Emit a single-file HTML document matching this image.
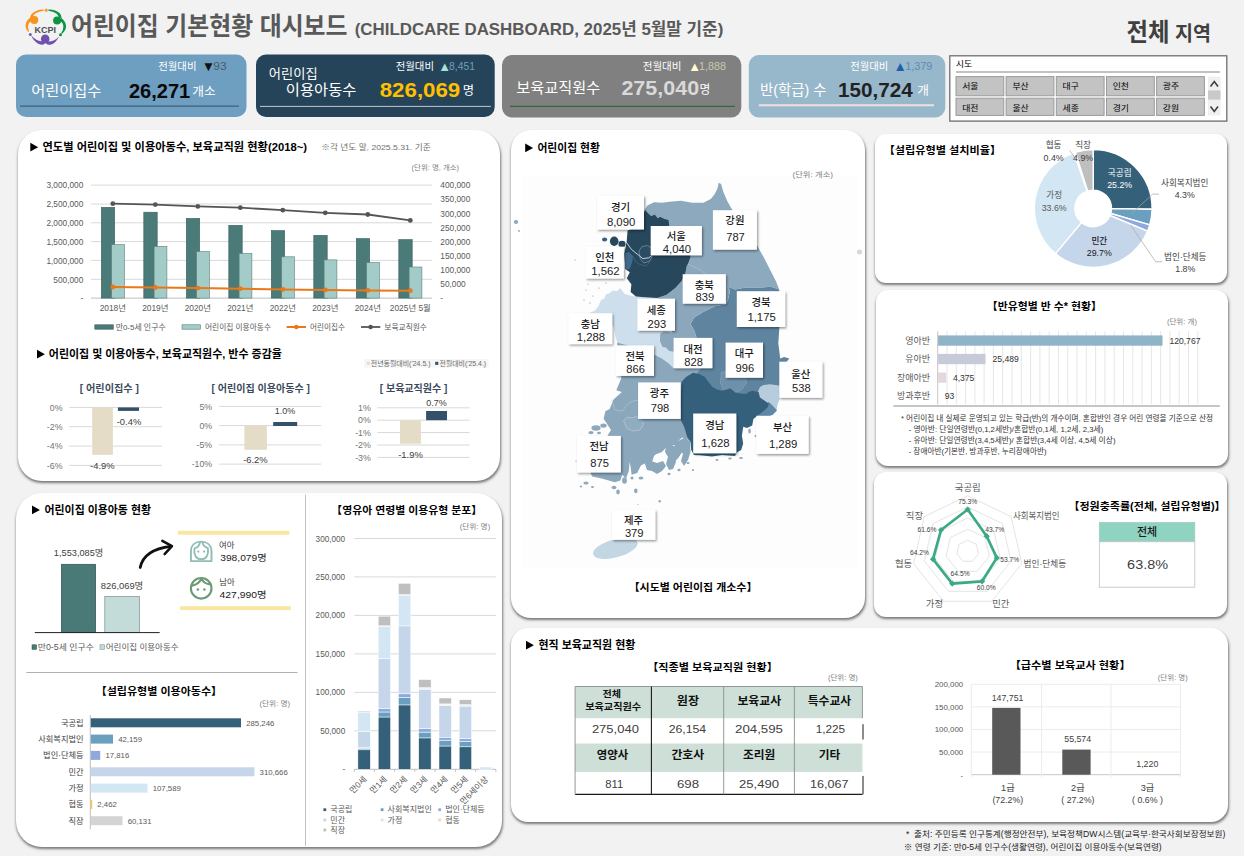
<!DOCTYPE html>
<html lang="ko"><head><meta charset="utf-8"><title>어린이집 기본현황 대시보드</title>
<style>
html,body{margin:0;padding:0;background:#f2f2f2}
body{width:1246px;height:856px;position:relative;overflow:hidden;font-family:"Liberation Sans","Noto Sans CJK KR",sans-serif}
.p{position:absolute;background:#fff;box-shadow:0.8px 2px 2.6px rgba(0,0,0,.5)}
svg{position:absolute;left:0;top:0}
svg text{font-family:"Liberation Sans","Noto Sans CJK KR",sans-serif;white-space:pre}
</style></head><body>
<div style="position:absolute;left:1243.6px;top:0;width:3px;height:856px;background:#fff"></div>
<div class="p" style="left:18.4px;top:130.2px;width:481.8px;height:351.2px;border-radius:24px"></div>
<div class="p" style="left:15.6px;top:492.8px;width:486.2px;height:354.6px;border-radius:26px"></div>
<div class="p" style="left:511.3px;top:130.3px;width:354px;height:487.4px;border-radius:20px"></div>
<div class="p" style="left:874.7px;top:133.7px;width:352.7px;height:149.6px;border-radius:11px"></div>
<div class="p" style="left:875.6px;top:290.2px;width:352.6px;height:175.4px;border-radius:12px"></div>
<div class="p" style="left:874.2px;top:472.0px;width:353.2px;height:144.5px;border-radius:12px"></div>
<div class="p" style="left:510.7px;top:628.0px;width:716.9px;height:194.0px;border-radius:17px"></div>
<svg width="1246" height="856" viewBox="0 0 1246 856">
<g id="header">
<g id="logo">
<path d="M43.6 9.5 Q36 9.3 31.4 14.2 Q29.8 16.2 30 18.6 L32.8 18 Q33 15.4 35.2 13.6 Q38.6 11 43.6 10.7 Z" fill="#f7941d"/>
<path d="M30.8 17.2 Q25.9 20.4 25.5 25.6 Q25.5 29.2 28.2 32 L29 31.4 Q27.7 28.6 28.1 25.6 Q28.7 22.2 32 20.4 Z" fill="#f7941d"/>
<circle cx="34.3" cy="20" r="4" fill="#f7941d"/><circle cx="46.2" cy="10.2" r="1.6" fill="#e8a33a"/>
<path d="M48.4 9.5 Q55.6 9.3 60 13.4 Q61.4 15.4 61.5 18 L58.9 17.6 Q58.3 15.2 56.4 13.6 Q53 11 48.4 10.7 Z" fill="#0a9444"/>
<path d="M60.8 17.6 Q65.7 21.4 66.1 26.3 Q66.1 30.2 61.9 34 L61.1 33.3 Q63.6 29.6 63.4 26 Q63 22.6 59.6 20.6 Z" fill="#0a9444"/>
<circle cx="57.1" cy="20.6" r="4" fill="#0a9444"/><circle cx="60.5" cy="34.7" r="1.5" fill="#0a9444"/>
<path d="M31.2 35.6 C33.5 41 38 44.6 42 44.8 C44 44.6 45 43.4 45.4 42.8 C46 43.5 47 44.6 49 44.8 C53 44.8 57 41.2 58.9 36.4 C55.5 40.6 50.5 42.4 45.4 41.2 C41 42.4 35.5 40.6 31.2 35.6Z" fill="#6f4fb0"/>
<circle cx="45.2" cy="38.9" r="4.3" fill="#6f4fb0"/><circle cx="30.3" cy="34.6" r="1.5" fill="#7a5cb5"/>
</g>
<text x="34.6" y="29.9" font-size="8.2" fill="#505050" font-weight="700" textLength="21.5" lengthAdjust="spacingAndGlyphs" dy="0.35em">KCPI</text>
<text x="71.0" y="26.3" font-size="25" fill="#595959" font-weight="700" textLength="276.5" lengthAdjust="spacingAndGlyphs" dy="0.35em">어린이집 기본현황 대시보드</text>
<text x="354.7" y="29.3" font-size="16.5" fill="#595959" font-weight="700" textLength="368.6" lengthAdjust="spacingAndGlyphs" dy="0.35em">(CHILDCARE DASHBOARD, 2025년 5월말 기준)</text>
<text x="1126.6" y="32.5" font-size="25" fill="#404040" font-weight="700" textLength="43.0" lengthAdjust="spacingAndGlyphs" dy="0.35em">전체</text>
<text x="1175.0" y="33.5" font-size="20" fill="#404040" font-weight="700" textLength="36.0" lengthAdjust="spacingAndGlyphs" dy="0.35em">지역</text>
<rect x="16" y="54.5" width="230.5" height="62.5" rx="10" ry="10" fill="#6f9fc0"/>
<rect x="256" y="54.5" width="238.7" height="62.5" rx="10" ry="10" fill="#264459"/>
<rect x="502" y="55" width="239.3" height="62.5" rx="10" ry="10" fill="#808080"/>
<rect x="748.8" y="55" width="196.5" height="62.5" rx="10" ry="10" fill="#97b7ca"/>
<text x="158.2" y="66.3" font-size="9.8" fill="#fff" textLength="38.3" lengthAdjust="spacingAndGlyphs" dy="0.35em">전월대비</text>
<text x="201.8" y="66.2" font-size="13.5" fill="#111" dy="0.35em">▼</text>
<text x="213.3" y="66.5" font-size="10.5" fill="#4a5a68" font-weight="300" textLength="13.3" lengthAdjust="spacingAndGlyphs" dy="0.35em">93</text>
<text x="31.3" y="90.6" font-size="15.3" fill="#fff" textLength="70.1" lengthAdjust="spacingAndGlyphs" dy="0.35em">어린이집수</text>
<text x="128.9" y="90.4" font-size="20.5" fill="#0a0a0a" font-weight="700" textLength="61.4" lengthAdjust="spacingAndGlyphs" dy="0.35em">26,271</text>
<text x="192.3" y="91.8" font-size="12.5" fill="#fff" textLength="23.5" lengthAdjust="spacingAndGlyphs" dy="0.35em">개소</text>
<line x1="20.0" y1="106.2" x2="239.0" y2="106.2" stroke="#41607a" stroke-width="1.2"/>
<text x="268.8" y="73.1" font-size="12.8" fill="#fff" textLength="48.8" lengthAdjust="spacingAndGlyphs" dy="0.35em">어린이집</text>
<text x="285.8" y="89.6" font-size="15.3" fill="#fff" textLength="70.6" lengthAdjust="spacingAndGlyphs" dy="0.35em">이용아동수</text>
<text x="395.7" y="66.3" font-size="9.8" fill="#fff" textLength="38.3" lengthAdjust="spacingAndGlyphs" dy="0.35em">전월대비</text>
<text x="438.2" y="66.4" font-size="13" fill="#a5e3e0" dy="0.35em">▲</text>
<text x="449.0" y="66.5" font-size="10.5" fill="#6f9fba" font-weight="300" textLength="25.9" lengthAdjust="spacingAndGlyphs" dy="0.35em">8,451</text>
<text x="379.7" y="89.4" font-size="21" fill="#ffc000" font-weight="700" textLength="80.6" lengthAdjust="spacingAndGlyphs" dy="0.35em">826,069</text>
<text x="462.8" y="90.8" font-size="12.5" fill="#fff" textLength="11.3" lengthAdjust="spacingAndGlyphs" dy="0.35em">명</text>
<line x1="260.0" y1="106.4" x2="490.9" y2="106.4" stroke="#c4c9cd" stroke-width="1"/>
<text x="642.7" y="66.3" font-size="9.8" fill="#fff" textLength="38.8" lengthAdjust="spacingAndGlyphs" dy="0.35em">전월대비</text>
<text x="688.2" y="66.4" font-size="13" fill="#ffffd0" dy="0.35em">▲</text>
<text x="699.0" y="66.5" font-size="10.5" fill="#c8c8ae" font-weight="300" textLength="26.9" lengthAdjust="spacingAndGlyphs" dy="0.35em">1,888</text>
<text x="516.3" y="88.1" font-size="15.3" fill="#fff" textLength="83.9" lengthAdjust="spacingAndGlyphs" dy="0.35em">보육교직원수</text>
<text x="621.4" y="87.9" font-size="21" fill="#d9d9d9" font-weight="700" textLength="77.7" lengthAdjust="spacingAndGlyphs" dy="0.35em">275,040</text>
<text x="699.5" y="89.3" font-size="12.5" fill="#fff" textLength="10.8" lengthAdjust="spacingAndGlyphs" dy="0.35em">명</text>
<line x1="510.0" y1="106.4" x2="734.9" y2="106.4" stroke="#2f6b3c" stroke-width="1.2"/>
<text x="850.2" y="66.3" font-size="9.8" fill="#fff" textLength="38.0" lengthAdjust="spacingAndGlyphs" dy="0.35em">전월대비</text>
<text x="893.6" y="66.4" font-size="13.5" fill="#1f5fa8" dy="0.35em">▲</text>
<text x="905.2" y="66.5" font-size="10.5" fill="#5d8cb8" font-weight="300" textLength="27.1" lengthAdjust="spacingAndGlyphs" dy="0.35em">1,379</text>
<text x="760.0" y="90.1" font-size="15.3" fill="#fff" textLength="66.4" lengthAdjust="spacingAndGlyphs" dy="0.35em">반(학급) 수</text>
<text x="838.1" y="89.9" font-size="20" fill="#222" font-weight="700" textLength="74.7" lengthAdjust="spacingAndGlyphs" dy="0.35em">150,724</text>
<text x="917.3" y="91.0" font-size="12.5" fill="#fff" textLength="11.7" lengthAdjust="spacingAndGlyphs" dy="0.35em">개</text>
<line x1="758.8" y1="105.2" x2="934.0" y2="105.2" stroke="#f1dfe0" stroke-width="2"/>
<rect x="949.8" y="55.8" width="277" height="65.3" fill="#fff" stroke="#6e6e6e" stroke-width="1.3"/>
<text x="955.8" y="64.3" font-size="8.8" fill="#000" textLength="16.5" lengthAdjust="spacingAndGlyphs" dy="0.35em">시도</text>
<line x1="956.0" y1="72.0" x2="1220.0" y2="72.0" stroke="#858585" stroke-width="1"/>
<rect x="956.0" y="76.6" width="47.8" height="19.2" fill="#c3c3c3" stroke="#9a9a9a" stroke-width="1"/>
<text x="962.2" y="86.5" font-size="8.3" fill="#000" textLength="16.3" lengthAdjust="spacingAndGlyphs" dy="0.35em">서울</text>
<rect x="1006.1" y="76.6" width="47.8" height="19.2" fill="#c3c3c3" stroke="#9a9a9a" stroke-width="1"/>
<text x="1012.4" y="86.5" font-size="8.3" fill="#000" textLength="16.3" lengthAdjust="spacingAndGlyphs" dy="0.35em">부산</text>
<rect x="1056.3" y="76.6" width="47.8" height="19.2" fill="#c3c3c3" stroke="#9a9a9a" stroke-width="1"/>
<text x="1062.5" y="86.5" font-size="8.3" fill="#000" textLength="16.3" lengthAdjust="spacingAndGlyphs" dy="0.35em">대구</text>
<rect x="1106.5" y="76.6" width="47.8" height="19.2" fill="#c3c3c3" stroke="#9a9a9a" stroke-width="1"/>
<text x="1112.7" y="86.5" font-size="8.3" fill="#000" textLength="16.3" lengthAdjust="spacingAndGlyphs" dy="0.35em">인천</text>
<rect x="1156.6" y="76.6" width="47.8" height="19.2" fill="#c3c3c3" stroke="#9a9a9a" stroke-width="1"/>
<text x="1162.8" y="86.5" font-size="8.3" fill="#000" textLength="16.3" lengthAdjust="spacingAndGlyphs" dy="0.35em">광주</text>
<rect x="956.0" y="98.2" width="47.8" height="17.2" fill="#c3c3c3" stroke="#9a9a9a" stroke-width="1"/>
<text x="962.2" y="108.0" font-size="8.3" fill="#000" textLength="16.3" lengthAdjust="spacingAndGlyphs" dy="0.35em">대전</text>
<rect x="1006.1" y="98.2" width="47.8" height="17.2" fill="#c3c3c3" stroke="#9a9a9a" stroke-width="1"/>
<text x="1012.4" y="108.0" font-size="8.3" fill="#000" textLength="16.3" lengthAdjust="spacingAndGlyphs" dy="0.35em">울산</text>
<rect x="1056.3" y="98.2" width="47.8" height="17.2" fill="#c3c3c3" stroke="#9a9a9a" stroke-width="1"/>
<text x="1062.5" y="108.0" font-size="8.3" fill="#000" textLength="16.3" lengthAdjust="spacingAndGlyphs" dy="0.35em">세종</text>
<rect x="1106.5" y="98.2" width="47.8" height="17.2" fill="#c3c3c3" stroke="#9a9a9a" stroke-width="1"/>
<text x="1112.7" y="108.0" font-size="8.3" fill="#000" textLength="16.3" lengthAdjust="spacingAndGlyphs" dy="0.35em">경기</text>
<rect x="1156.6" y="98.2" width="47.8" height="17.2" fill="#c3c3c3" stroke="#9a9a9a" stroke-width="1"/>
<text x="1162.8" y="108.0" font-size="8.3" fill="#000" textLength="16.3" lengthAdjust="spacingAndGlyphs" dy="0.35em">강원</text>
<rect x="1208.0" y="76.6" width="12.5" height="38.8" fill="#f0f0f0"/>
<rect x="1208.0" y="90.4" width="12.5" height="9.2" fill="#c9c9c9"/>
<path d="M1210.5 86.5 L1214.3 81.5 L1218 86.5 M1210.5 106.5 L1214.3 111.5 L1218 106.5" fill="none" stroke="#404040" stroke-width="1.6"/>
</g>
<g id="panel1">
<path d="M30.3 142.8 L38.2 147.2 L30.3 151.6Z" fill="#000"/>
<text x="42.5" y="147.2" font-size="11.2" fill="#000" font-weight="700" textLength="264.5" lengthAdjust="spacingAndGlyphs" dy="0.35em">연도별 어린이집 및 이용아동수, 보육교직원 현황(2018~)</text>
<text x="321.3" y="147.2" font-size="7.6" fill="#6f6f6f" textLength="109.3" lengthAdjust="spacingAndGlyphs" dy="0.35em">※각 년도 말, 2025.5.31. 기준</text>
<text x="459.1" y="167.1" font-size="7" fill="#7f7f7f" text-anchor="end" textLength="47.5" lengthAdjust="spacingAndGlyphs" dy="0.35em">(단위: 명, 개소)</text>
<line x1="91.0" y1="298.1" x2="432.1" y2="298.1" stroke="#bfbfbf" stroke-width="1"/>
<text x="83.3" y="298.4" font-size="8.3" fill="#595959" text-anchor="end" dy="0.35em">-</text>
<line x1="91.0" y1="279.3" x2="432.1" y2="279.3" stroke="#d9d9d9" stroke-width="1"/>
<text x="83.3" y="279.6" font-size="8.3" fill="#595959" text-anchor="end" dy="0.35em">500,000</text>
<line x1="91.0" y1="260.4" x2="432.1" y2="260.4" stroke="#d9d9d9" stroke-width="1"/>
<text x="83.3" y="260.7" font-size="8.3" fill="#595959" text-anchor="end" dy="0.35em">1,000,000</text>
<line x1="91.0" y1="241.6" x2="432.1" y2="241.6" stroke="#d9d9d9" stroke-width="1"/>
<text x="83.3" y="241.9" font-size="8.3" fill="#595959" text-anchor="end" dy="0.35em">1,500,000</text>
<line x1="91.0" y1="222.8" x2="432.1" y2="222.8" stroke="#d9d9d9" stroke-width="1"/>
<text x="83.3" y="223.1" font-size="8.3" fill="#595959" text-anchor="end" dy="0.35em">2,000,000</text>
<line x1="91.0" y1="204.0" x2="432.1" y2="204.0" stroke="#d9d9d9" stroke-width="1"/>
<text x="83.3" y="204.3" font-size="8.3" fill="#595959" text-anchor="end" dy="0.35em">2,500,000</text>
<line x1="91.0" y1="185.1" x2="432.1" y2="185.1" stroke="#d9d9d9" stroke-width="1"/>
<text x="83.3" y="185.4" font-size="8.3" fill="#595959" text-anchor="end" dy="0.35em">3,000,000</text>
<text x="440.3" y="298.3" font-size="8.3" fill="#595959" dy="0.35em">-</text>
<text x="440.3" y="284.2" font-size="8.3" fill="#595959" dy="0.35em">50,000</text>
<text x="440.3" y="270.1" font-size="8.3" fill="#595959" dy="0.35em">100,000</text>
<text x="440.3" y="255.9" font-size="8.3" fill="#595959" dy="0.35em">150,000</text>
<text x="440.3" y="241.8" font-size="8.3" fill="#595959" dy="0.35em">200,000</text>
<text x="440.3" y="227.7" font-size="8.3" fill="#595959" dy="0.35em">250,000</text>
<text x="440.3" y="213.6" font-size="8.3" fill="#595959" dy="0.35em">300,000</text>
<text x="440.3" y="199.4" font-size="8.3" fill="#595959" dy="0.35em">350,000</text>
<text x="440.3" y="185.3" font-size="8.3" fill="#595959" dy="0.35em">400,000</text>
<rect x="101.3" y="207.3" width="13.4" height="90.8" fill="#4a7b78" stroke="#3a5f5d" stroke-width="0.6"/>
<rect x="111.6" y="244.6" width="12.8" height="53.5" fill="#a3cbc7" stroke="#5b7f7c" stroke-width="0.6"/>
<text x="112.8" y="308.2" font-size="8.4" fill="#595959" text-anchor="middle" dy="0.35em">2018년</text>
<rect x="143.8" y="212.2" width="13.4" height="85.9" fill="#4a7b78" stroke="#3a5f5d" stroke-width="0.6"/>
<rect x="154.1" y="246.4" width="12.8" height="51.7" fill="#a3cbc7" stroke="#5b7f7c" stroke-width="0.6"/>
<text x="155.3" y="308.2" font-size="8.4" fill="#595959" text-anchor="middle" dy="0.35em">2019년</text>
<rect x="186.3" y="218.4" width="13.4" height="79.7" fill="#4a7b78" stroke="#3a5f5d" stroke-width="0.6"/>
<rect x="196.6" y="251.5" width="12.8" height="46.6" fill="#a3cbc7" stroke="#5b7f7c" stroke-width="0.6"/>
<text x="197.8" y="308.2" font-size="8.4" fill="#595959" text-anchor="middle" dy="0.35em">2020년</text>
<rect x="228.8" y="225.3" width="13.4" height="72.8" fill="#4a7b78" stroke="#3a5f5d" stroke-width="0.6"/>
<rect x="239.1" y="253.5" width="12.8" height="44.6" fill="#a3cbc7" stroke="#5b7f7c" stroke-width="0.6"/>
<text x="240.3" y="308.2" font-size="8.4" fill="#595959" text-anchor="middle" dy="0.35em">2021년</text>
<rect x="271.3" y="230.6" width="13.4" height="67.5" fill="#4a7b78" stroke="#3a5f5d" stroke-width="0.6"/>
<rect x="281.6" y="256.8" width="12.8" height="41.3" fill="#a3cbc7" stroke="#5b7f7c" stroke-width="0.6"/>
<text x="282.8" y="308.2" font-size="8.4" fill="#595959" text-anchor="middle" dy="0.35em">2022년</text>
<rect x="313.8" y="235.3" width="13.4" height="62.8" fill="#4a7b78" stroke="#3a5f5d" stroke-width="0.6"/>
<rect x="324.1" y="259.9" width="12.8" height="38.2" fill="#a3cbc7" stroke="#5b7f7c" stroke-width="0.6"/>
<text x="325.3" y="308.2" font-size="8.4" fill="#595959" text-anchor="middle" dy="0.35em">2023년</text>
<rect x="356.3" y="238.6" width="13.4" height="59.5" fill="#4a7b78" stroke="#3a5f5d" stroke-width="0.6"/>
<rect x="366.6" y="262.6" width="12.8" height="35.5" fill="#a3cbc7" stroke="#5b7f7c" stroke-width="0.6"/>
<text x="367.8" y="308.2" font-size="8.4" fill="#595959" text-anchor="middle" dy="0.35em">2024년</text>
<rect x="398.8" y="239.6" width="13.4" height="58.5" fill="#4a7b78" stroke="#3a5f5d" stroke-width="0.6"/>
<rect x="409.1" y="267.0" width="12.8" height="31.1" fill="#a3cbc7" stroke="#5b7f7c" stroke-width="0.6"/>
<text x="410.3" y="308.2" font-size="8.4" fill="#595959" text-anchor="middle" dy="0.35em">2025년 5월</text>
<polyline points="112.8,287.0 155.3,287.5 197.8,288.1 240.3,288.7 282.8,289.4 325.3,289.9 367.8,290.4 410.3,290.7" fill="none" stroke="#e97818" stroke-width="2"/>
<circle cx="112.8" cy="287.0" r="2.4" fill="#e97818"/>
<circle cx="155.3" cy="287.5" r="2.4" fill="#e97818"/>
<circle cx="197.8" cy="288.1" r="2.4" fill="#e97818"/>
<circle cx="240.3" cy="288.7" r="2.4" fill="#e97818"/>
<circle cx="282.8" cy="289.4" r="2.4" fill="#e97818"/>
<circle cx="325.3" cy="289.9" r="2.4" fill="#e97818"/>
<circle cx="367.8" cy="290.4" r="2.4" fill="#e97818"/>
<circle cx="410.3" cy="290.7" r="2.4" fill="#e97818"/>
<polyline points="112.8,203.7 155.3,204.6 197.8,206.4 240.3,207.7 282.8,210.2 325.3,212.8 367.8,214.5 410.3,220.4" fill="none" stroke="#555" stroke-width="1.8"/>
<circle cx="112.8" cy="203.7" r="2.4" fill="#555"/>
<circle cx="155.3" cy="204.6" r="2.4" fill="#555"/>
<circle cx="197.8" cy="206.4" r="2.4" fill="#555"/>
<circle cx="240.3" cy="207.7" r="2.4" fill="#555"/>
<circle cx="282.8" cy="210.2" r="2.4" fill="#555"/>
<circle cx="325.3" cy="212.8" r="2.4" fill="#555"/>
<circle cx="367.8" cy="214.5" r="2.4" fill="#555"/>
<circle cx="410.3" cy="220.4" r="2.4" fill="#555"/>
<rect x="94.8" y="324.8" width="18.5" height="4.4" fill="#4a7b78" stroke="#3a5f5d" stroke-width="0.6"/>
<text x="115.7" y="327.0" font-size="8" fill="#595959" textLength="50.0" lengthAdjust="spacingAndGlyphs" dy="0.35em">만0-5세 인구수</text>
<rect x="182" y="324.8" width="18.5" height="4.4" fill="#a3cbc7" stroke="#5b7f7c" stroke-width="0.6"/>
<text x="205.0" y="327.0" font-size="8" fill="#595959" textLength="66.0" lengthAdjust="spacingAndGlyphs" dy="0.35em">어린이집 이용아동수</text>
<line x1="286.6" y1="327.0" x2="306.0" y2="327.0" stroke="#e97818" stroke-width="2"/>
<circle cx="296.3" cy="327" r="2.2" fill="#e97818"/>
<text x="310.0" y="327.0" font-size="8" fill="#595959" textLength="35.0" lengthAdjust="spacingAndGlyphs" dy="0.35em">어린이집수</text>
<line x1="361.0" y1="327.0" x2="380.3" y2="327.0" stroke="#555" stroke-width="1.8"/>
<circle cx="370.6" cy="327" r="2.2" fill="#555"/>
<text x="384.3" y="327.0" font-size="8" fill="#595959" textLength="42.7" lengthAdjust="spacingAndGlyphs" dy="0.35em">보육교직원수</text>
<path d="M37.0 349.8 L44.9 354.2 L37.0 358.6Z" fill="#000"/>
<text x="48.8" y="354.2" font-size="11.2" fill="#000" font-weight="700" textLength="233.0" lengthAdjust="spacingAndGlyphs" dy="0.35em">어린이집 및 이용아동수, 보육교직원수, 반수 증감율</text>
<rect x="364.5" y="359.0" width="124.0" height="8.6" fill="#f6f6f6"/>
<rect x="367.0" y="361.9" width="2.8" height="2.8" fill="#e4dcc6"/>
<text x="370.8" y="363.3" font-size="6.4" fill="#6a6a6a" textLength="59.7" lengthAdjust="spacingAndGlyphs" dy="0.35em">전년동월대비('24.5.)</text>
<rect x="435.2" y="361.8" width="3.1" height="3.1" fill="#34506b"/>
<text x="439.6" y="363.3" font-size="6.4" fill="#6a6a6a" textLength="46.5" lengthAdjust="spacingAndGlyphs" dy="0.35em">전월대비('25.4.)</text>
<text x="109.3" y="388.2" font-size="10.3" fill="#3b4a5c" text-anchor="middle" font-weight="700" textLength="59.0" lengthAdjust="spacingAndGlyphs" dy="0.35em">[ 어린이집수 ]</text>
<line x1="69.2" y1="407.4" x2="162.1" y2="407.4" stroke="#d9d9d9" stroke-width="1"/>
<text x="62.5" y="407.6" font-size="8.8" fill="#747474" text-anchor="end" dy="0.35em">0%</text>
<line x1="69.2" y1="426.7" x2="162.1" y2="426.7" stroke="#d9d9d9" stroke-width="1"/>
<text x="62.5" y="426.9" font-size="8.8" fill="#747474" text-anchor="end" dy="0.35em">-2%</text>
<line x1="69.2" y1="446.1" x2="162.1" y2="446.1" stroke="#d9d9d9" stroke-width="1"/>
<text x="62.5" y="446.3" font-size="8.8" fill="#747474" text-anchor="end" dy="0.35em">-4%</text>
<line x1="69.2" y1="465.4" x2="162.1" y2="465.4" stroke="#d9d9d9" stroke-width="1"/>
<text x="62.5" y="465.6" font-size="8.8" fill="#747474" text-anchor="end" dy="0.35em">-6%</text>
<rect x="92.2" y="407.4" width="20.7" height="47.4" fill="#e4dcc6"/>
<rect x="117.9" y="407.4" width="21.1" height="3.5" fill="#34506b"/>
<text x="129.0" y="421.7" font-size="9" fill="#404040" text-anchor="middle" textLength="24.5" lengthAdjust="spacingAndGlyphs" dy="0.35em">-0.4%</text>
<text x="102.3" y="466.0" font-size="9" fill="#404040" text-anchor="middle" textLength="24.5" lengthAdjust="spacingAndGlyphs" dy="0.35em">-4.9%</text>
<text x="260.7" y="388.2" font-size="10.3" fill="#3b4a5c" text-anchor="middle" font-weight="700" textLength="98.3" lengthAdjust="spacingAndGlyphs" dy="0.35em">[ 어린이집 이용아동수 ]</text>
<line x1="219.2" y1="406.4" x2="321.2" y2="406.4" stroke="#d9d9d9" stroke-width="1"/>
<text x="212.2" y="406.6" font-size="8.8" fill="#747474" text-anchor="end" dy="0.35em">5%</text>
<line x1="219.2" y1="425.6" x2="321.2" y2="425.6" stroke="#d9d9d9" stroke-width="1"/>
<text x="212.2" y="425.8" font-size="8.8" fill="#747474" text-anchor="end" dy="0.35em">0%</text>
<line x1="219.2" y1="444.9" x2="321.2" y2="444.9" stroke="#d9d9d9" stroke-width="1"/>
<text x="212.2" y="445.1" font-size="8.8" fill="#747474" text-anchor="end" dy="0.35em">-5%</text>
<line x1="219.2" y1="464.1" x2="321.2" y2="464.1" stroke="#d9d9d9" stroke-width="1"/>
<text x="212.2" y="464.3" font-size="8.8" fill="#747474" text-anchor="end" dy="0.35em">-10%</text>
<rect x="244.4" y="425.7" width="22.5" height="24.1" fill="#e4dcc6"/>
<rect x="273.2" y="422.0" width="24.0" height="4.0" fill="#34506b"/>
<text x="285.0" y="411.0" font-size="9" fill="#404040" text-anchor="middle" textLength="20.5" lengthAdjust="spacingAndGlyphs" dy="0.35em">1.0%</text>
<text x="255.4" y="460.2" font-size="9" fill="#404040" text-anchor="middle" textLength="24.5" lengthAdjust="spacingAndGlyphs" dy="0.35em">-6.2%</text>
<text x="413.6" y="388.2" font-size="10.3" fill="#3b4a5c" text-anchor="middle" font-weight="700" textLength="67.6" lengthAdjust="spacingAndGlyphs" dy="0.35em">[ 보육교직원수 ]</text>
<line x1="377.4" y1="407.8" x2="469.7" y2="407.8" stroke="#d9d9d9" stroke-width="1"/>
<text x="370.8" y="408.0" font-size="8.8" fill="#747474" text-anchor="end" dy="0.35em">1%</text>
<line x1="377.4" y1="420.2" x2="469.7" y2="420.2" stroke="#d9d9d9" stroke-width="1"/>
<text x="370.8" y="420.4" font-size="8.8" fill="#747474" text-anchor="end" dy="0.35em">0%</text>
<line x1="377.4" y1="432.6" x2="469.7" y2="432.6" stroke="#d9d9d9" stroke-width="1"/>
<text x="370.8" y="432.8" font-size="8.8" fill="#747474" text-anchor="end" dy="0.35em">-1%</text>
<line x1="377.4" y1="445.0" x2="469.7" y2="445.0" stroke="#d9d9d9" stroke-width="1"/>
<text x="370.8" y="445.2" font-size="8.8" fill="#747474" text-anchor="end" dy="0.35em">-2%</text>
<line x1="377.4" y1="457.4" x2="469.7" y2="457.4" stroke="#d9d9d9" stroke-width="1"/>
<text x="370.8" y="457.6" font-size="8.8" fill="#747474" text-anchor="end" dy="0.35em">-3%</text>
<rect x="400.0" y="420.2" width="20.9" height="23.5" fill="#e4dcc6"/>
<rect x="426.1" y="411.0" width="20.9" height="9.2" fill="#34506b"/>
<text x="436.6" y="402.4" font-size="9" fill="#404040" text-anchor="middle" textLength="20.5" lengthAdjust="spacingAndGlyphs" dy="0.35em">0.7%</text>
<text x="410.5" y="454.8" font-size="9" fill="#404040" text-anchor="middle" textLength="24.5" lengthAdjust="spacingAndGlyphs" dy="0.35em">-1.9%</text>
</g>
<g id="panel2">
<path d="M32.0 505.5 L39.9 509.9 L32.0 514.3Z" fill="#000"/>
<text x="44.5" y="509.9" font-size="11.2" fill="#000" font-weight="700" textLength="106.5" lengthAdjust="spacingAndGlyphs" dy="0.35em">어린이집 이용아동 현황</text>
<rect x="61.4" y="564.3" width="34.2" height="68" fill="#497a77" stroke="#2f4f4d" stroke-width="0.7"/>
<rect x="104.8" y="596.4" width="34.6" height="36" fill="#c3dbd9" stroke="#7c8f8e" stroke-width="0.7"/>
<line x1="34.8" y1="632.6" x2="159.7" y2="632.6" stroke="#222" stroke-width="1"/>
<text x="78.6" y="552.9" font-size="8.8" fill="#404040" text-anchor="middle" textLength="49.5" lengthAdjust="spacingAndGlyphs" dy="0.35em">1,553,085명</text>
<text x="122.0" y="585.5" font-size="8.8" fill="#404040" text-anchor="middle" textLength="42.5" lengthAdjust="spacingAndGlyphs" dy="0.35em">826,069명</text>
<rect x="32.0" y="644.8" width="4.6" height="4.6" fill="#497a77" stroke="#2f4f4d" stroke-width="0.5"/>
<text x="37.8" y="647.2" font-size="8.4" fill="#595959" textLength="56.0" lengthAdjust="spacingAndGlyphs" dy="0.35em">만0-5세 인구수</text>
<rect x="100.0" y="644.8" width="4.6" height="4.6" fill="#c3dbd9" stroke="#6f8382" stroke-width="0.5"/>
<text x="105.8" y="647.2" font-size="8.4" fill="#595959" textLength="72.8" lengthAdjust="spacingAndGlyphs" dy="0.35em">어린이집 이용아동수</text>
<path d="M140.2 567.5 C142.5 556 152 548.5 171 546.3" fill="none" stroke="#111" stroke-width="2.8" stroke-linecap="round"/>
<path d="M162.3 540.8 L172 546.2 L164.6 554.2" fill="none" stroke="#111" stroke-width="2.5" stroke-linecap="round" stroke-linejoin="round"/>
<rect x="178.0" y="530.8" width="111.4" height="3.9" fill="#f9e79f"/>
<rect x="180.0" y="606.2" width="110.9" height="3.8" fill="#f9e79f"/>
<g fill="none" stroke="#8fbdb5" stroke-width="1.9" stroke-linecap="round" stroke-linejoin="round">
<path d="M190.9 561.1 V551.6 C190.9 545 195.4 541.6 201.2 541.6 C207 541.6 211.5 545 211.5 551.6 V561.1 Z"/>
<path d="M194.4 549.2 C193.6 555 196.4 559.3 201.2 559.3 C206 559.3 208.8 555 208 549.2"/>
<path d="M200 542.6 C199.4 545.6 197.6 547.4 194.8 548.2 M202.6 542.6 C203.2 545.4 205 547.2 207.8 548"/>
</g><circle cx="198.3" cy="551.6" r="1.15" fill="#8fbdb5"/><circle cx="204.1" cy="551.6" r="1.15" fill="#8fbdb5"/>
<g fill="none" stroke="#6b9b76" stroke-width="2.1" stroke-linecap="round" stroke-linejoin="round">
<circle cx="201.2" cy="588.3" r="10.3"/>
<path d="M192 585.6 C196.6 584.6 200 582.2 201.4 578.6 C203 582 206 584 210.6 584.4"/>
</g><circle cx="197.9" cy="589.4" r="1.25" fill="#6b9b76"/><circle cx="204.4" cy="589.4" r="1.25" fill="#6b9b76"/>
<text x="219.0" y="545.5" font-size="8.4" fill="#404040" textLength="15.5" lengthAdjust="spacingAndGlyphs" dy="0.35em">여아</text>
<text x="220.2" y="557.8" font-size="9.6" fill="#1a1a1a" textLength="46.5" lengthAdjust="spacingAndGlyphs" dy="0.35em">398,079명</text>
<text x="219.2" y="582.0" font-size="8.4" fill="#404040" textLength="15.5" lengthAdjust="spacingAndGlyphs" dy="0.35em">남아</text>
<text x="219.6" y="594.2" font-size="9.6" fill="#1a1a1a" textLength="47.0" lengthAdjust="spacingAndGlyphs" dy="0.35em">427,990명</text>
<line x1="305.5" y1="494.5" x2="305.5" y2="846.0" stroke="#c2c2c2" stroke-width="1"/>
<line x1="26.4" y1="672.5" x2="297.5" y2="672.5" stroke="#b0b0b0" stroke-width="1"/>
<text x="158.9" y="691.8" font-size="10.3" fill="#000" text-anchor="middle" font-weight="700" textLength="126.5" lengthAdjust="spacingAndGlyphs" dy="0.35em">【설립유형별 이용아동수】</text>
<text x="290.0" y="703.2" font-size="7.2" fill="#7f7f7f" text-anchor="end" textLength="30.5" lengthAdjust="spacingAndGlyphs" dy="0.35em">(단위: 명)</text>
<line x1="90.3" y1="715.0" x2="90.3" y2="829.3" stroke="#bfbfbf" stroke-width="1"/>
<rect x="90.8" y="718.3" width="150.2" height="9.0" fill="#35607a"/>
<text x="83.5" y="722.9" font-size="8.2" fill="#404040" text-anchor="end" dy="0.35em">국공립</text>
<text x="246.2" y="722.9" font-size="7.8" fill="#595959" dy="0.35em">285,246</text>
<rect x="90.8" y="734.6" width="22.2" height="9.0" fill="#6a9fc0"/>
<text x="83.5" y="739.2" font-size="8.2" fill="#404040" text-anchor="end" dy="0.35em">사회복지법인</text>
<text x="118.2" y="739.2" font-size="7.8" fill="#595959" dy="0.35em">42,159</text>
<rect x="90.8" y="750.9" width="9.4" height="9.0" fill="#8ea9db"/>
<text x="83.5" y="755.5" font-size="8.2" fill="#404040" text-anchor="end" dy="0.35em">법인·단체등</text>
<text x="105.4" y="755.5" font-size="7.8" fill="#595959" dy="0.35em">17,816</text>
<rect x="90.8" y="767.3" width="163.6" height="9.0" fill="#c5d5ea"/>
<text x="83.5" y="771.9" font-size="8.2" fill="#404040" text-anchor="end" dy="0.35em">민간</text>
<text x="259.6" y="771.9" font-size="7.8" fill="#595959" dy="0.35em">310,666</text>
<rect x="90.8" y="783.6" width="56.7" height="9.0" fill="#d2e6f3"/>
<text x="83.5" y="788.2" font-size="8.2" fill="#404040" text-anchor="end" dy="0.35em">가정</text>
<text x="152.7" y="788.2" font-size="7.8" fill="#595959" dy="0.35em">107,589</text>
<rect x="90.8" y="799.9" width="1.4" height="9.0" fill="#f5c84c"/>
<text x="83.5" y="804.5" font-size="8.2" fill="#404040" text-anchor="end" dy="0.35em">협동</text>
<text x="97.3" y="804.5" font-size="7.8" fill="#595959" dy="0.35em">2,462</text>
<rect x="90.8" y="816.2" width="31.7" height="9.0" fill="#d4d4d4"/>
<text x="83.5" y="820.8" font-size="8.2" fill="#404040" text-anchor="end" dy="0.35em">직장</text>
<text x="127.7" y="820.8" font-size="7.8" fill="#595959" dy="0.35em">60,131</text>
<text x="406.7" y="510.5" font-size="10.3" fill="#000" text-anchor="middle" font-weight="700" textLength="150.7" lengthAdjust="spacingAndGlyphs" dy="0.35em">【영유아 연령별 이용유형 분포】</text>
<text x="490.2" y="526.4" font-size="7.2" fill="#7f7f7f" text-anchor="end" textLength="30.5" lengthAdjust="spacingAndGlyphs" dy="0.35em">(단위: 명)</text>
<line x1="354.2" y1="769.3" x2="496.0" y2="769.3" stroke="#bfbfbf" stroke-width="1"/>
<text x="345.2" y="769.5" font-size="8.2" fill="#595959" text-anchor="end" dy="0.35em">-</text>
<line x1="354.2" y1="730.8" x2="496.0" y2="730.8" stroke="#d9d9d9" stroke-width="1"/>
<text x="345.2" y="731.0" font-size="8.2" fill="#595959" text-anchor="end" dy="0.35em">50,000</text>
<line x1="354.2" y1="692.4" x2="496.0" y2="692.4" stroke="#d9d9d9" stroke-width="1"/>
<text x="345.2" y="692.6" font-size="8.2" fill="#595959" text-anchor="end" dy="0.35em">100,000</text>
<line x1="354.2" y1="653.9" x2="496.0" y2="653.9" stroke="#d9d9d9" stroke-width="1"/>
<text x="345.2" y="654.1" font-size="8.2" fill="#595959" text-anchor="end" dy="0.35em">150,000</text>
<line x1="354.2" y1="615.4" x2="496.0" y2="615.4" stroke="#d9d9d9" stroke-width="1"/>
<text x="345.2" y="615.6" font-size="8.2" fill="#595959" text-anchor="end" dy="0.35em">200,000</text>
<line x1="354.2" y1="576.9" x2="496.0" y2="576.9" stroke="#d9d9d9" stroke-width="1"/>
<text x="345.2" y="577.1" font-size="8.2" fill="#595959" text-anchor="end" dy="0.35em">250,000</text>
<line x1="354.2" y1="538.5" x2="496.0" y2="538.5" stroke="#d9d9d9" stroke-width="1"/>
<text x="345.2" y="538.7" font-size="8.2" fill="#595959" text-anchor="end" dy="0.35em">300,000</text>
<rect x="357.9" y="749.80" width="12.4" height="19.50" fill="#35607a" stroke="#fff" stroke-width="0.5"/>
<rect x="357.9" y="748.40" width="12.4" height="1.40" fill="#6a9fc0" stroke="#fff" stroke-width="0.5"/>
<rect x="357.9" y="747.60" width="12.4" height="0.80" fill="#8ea9db" stroke="#fff" stroke-width="0.5"/>
<rect x="357.9" y="731.60" width="12.4" height="16.00" fill="#c5d5ea" stroke="#fff" stroke-width="0.5"/>
<rect x="357.9" y="712.70" width="12.4" height="18.90" fill="#d2e6f3" stroke="#fff" stroke-width="0.5"/>
<rect x="357.9" y="712.30" width="12.4" height="0.40" fill="#f8d0c0" stroke="#fff" stroke-width="0.5"/>
<rect x="357.9" y="711.20" width="12.4" height="1.10" fill="#bfbfbf" stroke="#fff" stroke-width="0.5"/>
<line x1="374.3" y1="769.3" x2="374.3" y2="771.8" stroke="#bfbfbf" stroke-width="1"/>
<text transform="translate(365.0,777.7) rotate(-45)" font-size="8.4" fill="#595959" text-anchor="end" dy="0.35em">만0세</text>
<rect x="378.2" y="717.00" width="12.4" height="52.30" fill="#35607a" stroke="#fff" stroke-width="0.5"/>
<rect x="378.2" y="712.00" width="12.4" height="5.00" fill="#6a9fc0" stroke="#fff" stroke-width="0.5"/>
<rect x="378.2" y="708.60" width="12.4" height="3.40" fill="#8ea9db" stroke="#fff" stroke-width="0.5"/>
<rect x="378.2" y="658.40" width="12.4" height="50.20" fill="#c5d5ea" stroke="#fff" stroke-width="0.5"/>
<rect x="378.2" y="626.30" width="12.4" height="32.10" fill="#d2e6f3" stroke="#fff" stroke-width="0.5"/>
<rect x="378.2" y="625.80" width="12.4" height="0.50" fill="#f8d0c0" stroke="#fff" stroke-width="0.5"/>
<rect x="378.2" y="616.20" width="12.4" height="9.60" fill="#bfbfbf" stroke="#fff" stroke-width="0.5"/>
<line x1="394.6" y1="769.3" x2="394.6" y2="771.8" stroke="#bfbfbf" stroke-width="1"/>
<text transform="translate(385.3,777.7) rotate(-45)" font-size="8.4" fill="#595959" text-anchor="end" dy="0.35em">만1세</text>
<rect x="398.4" y="704.90" width="12.4" height="64.40" fill="#35607a" stroke="#fff" stroke-width="0.5"/>
<rect x="398.4" y="697.50" width="12.4" height="7.40" fill="#6a9fc0" stroke="#fff" stroke-width="0.5"/>
<rect x="398.4" y="693.80" width="12.4" height="3.70" fill="#8ea9db" stroke="#fff" stroke-width="0.5"/>
<rect x="398.4" y="625.90" width="12.4" height="67.90" fill="#c5d5ea" stroke="#fff" stroke-width="0.5"/>
<rect x="398.4" y="595.10" width="12.4" height="30.80" fill="#d2e6f3" stroke="#fff" stroke-width="0.5"/>
<rect x="398.4" y="594.60" width="12.4" height="0.50" fill="#f8d0c0" stroke="#fff" stroke-width="0.5"/>
<rect x="398.4" y="583.30" width="12.4" height="11.30" fill="#bfbfbf" stroke="#fff" stroke-width="0.5"/>
<line x1="414.8" y1="769.3" x2="414.8" y2="771.8" stroke="#bfbfbf" stroke-width="1"/>
<text transform="translate(405.5,777.7) rotate(-45)" font-size="8.4" fill="#595959" text-anchor="end" dy="0.35em">만2세</text>
<rect x="418.7" y="737.90" width="12.4" height="31.40" fill="#35607a" stroke="#fff" stroke-width="0.5"/>
<rect x="418.7" y="732.10" width="12.4" height="5.80" fill="#6a9fc0" stroke="#fff" stroke-width="0.5"/>
<rect x="418.7" y="728.30" width="12.4" height="3.80" fill="#8ea9db" stroke="#fff" stroke-width="0.5"/>
<rect x="418.7" y="689.70" width="12.4" height="38.60" fill="#c5d5ea" stroke="#fff" stroke-width="0.5"/>
<rect x="418.7" y="688.20" width="12.4" height="1.50" fill="#d2e6f3" stroke="#fff" stroke-width="0.5"/>
<rect x="418.7" y="687.70" width="12.4" height="0.50" fill="#f8d0c0" stroke="#fff" stroke-width="0.5"/>
<rect x="418.7" y="679.60" width="12.4" height="8.10" fill="#bfbfbf" stroke="#fff" stroke-width="0.5"/>
<line x1="435.1" y1="769.3" x2="435.1" y2="771.8" stroke="#bfbfbf" stroke-width="1"/>
<text transform="translate(425.8,777.7) rotate(-45)" font-size="8.4" fill="#595959" text-anchor="end" dy="0.35em">만3세</text>
<rect x="439.0" y="746.00" width="12.4" height="23.30" fill="#35607a" stroke="#fff" stroke-width="0.5"/>
<rect x="439.0" y="740.20" width="12.4" height="5.80" fill="#6a9fc0" stroke="#fff" stroke-width="0.5"/>
<rect x="439.0" y="737.20" width="12.4" height="3.00" fill="#8ea9db" stroke="#fff" stroke-width="0.5"/>
<rect x="439.0" y="705.60" width="12.4" height="31.60" fill="#c5d5ea" stroke="#fff" stroke-width="0.5"/>
<rect x="439.0" y="704.30" width="12.4" height="1.30" fill="#d2e6f3" stroke="#fff" stroke-width="0.5"/>
<rect x="439.0" y="703.90" width="12.4" height="0.40" fill="#f8d0c0" stroke="#fff" stroke-width="0.5"/>
<rect x="439.0" y="698.00" width="12.4" height="5.90" fill="#bfbfbf" stroke="#fff" stroke-width="0.5"/>
<line x1="455.4" y1="769.3" x2="455.4" y2="771.8" stroke="#bfbfbf" stroke-width="1"/>
<text transform="translate(446.1,777.7) rotate(-45)" font-size="8.4" fill="#595959" text-anchor="end" dy="0.35em">만4세</text>
<rect x="459.2" y="746.80" width="12.4" height="22.50" fill="#35607a" stroke="#fff" stroke-width="0.5"/>
<rect x="459.2" y="741.50" width="12.4" height="5.30" fill="#6a9fc0" stroke="#fff" stroke-width="0.5"/>
<rect x="459.2" y="738.40" width="12.4" height="3.10" fill="#8ea9db" stroke="#fff" stroke-width="0.5"/>
<rect x="459.2" y="706.10" width="12.4" height="32.30" fill="#c5d5ea" stroke="#fff" stroke-width="0.5"/>
<rect x="459.2" y="705.00" width="12.4" height="1.10" fill="#d2e6f3" stroke="#fff" stroke-width="0.5"/>
<rect x="459.2" y="704.60" width="12.4" height="0.40" fill="#f8d0c0" stroke="#fff" stroke-width="0.5"/>
<rect x="459.2" y="699.80" width="12.4" height="4.80" fill="#bfbfbf" stroke="#fff" stroke-width="0.5"/>
<line x1="475.6" y1="769.3" x2="475.6" y2="771.8" stroke="#bfbfbf" stroke-width="1"/>
<text transform="translate(466.3,777.7) rotate(-45)" font-size="8.4" fill="#595959" text-anchor="end" dy="0.35em">만5세</text>
<rect x="479.5" y="767.00" width="12.4" height="2.30" fill="#d2e6f3" stroke="#fff" stroke-width="0.5"/>
<line x1="495.9" y1="769.3" x2="495.9" y2="771.8" stroke="#bfbfbf" stroke-width="1"/>
<text transform="translate(486.6,777.7) rotate(-45)" font-size="8.4" fill="#595959" text-anchor="end" dy="0.35em">만6세이상</text>
<line x1="354.2" y1="769.3" x2="354.2" y2="771.8" stroke="#bfbfbf" stroke-width="1"/>
<rect x="323.4" y="808.3" width="2.8" height="2.8" fill="#35607a"/>
<text x="330.3" y="809.6" font-size="8" fill="#595959" dy="0.35em">국공립</text>
<rect x="380.7" y="808.3" width="2.8" height="2.8" fill="#6a9fc0"/>
<text x="387.6" y="809.6" font-size="8" fill="#595959" dy="0.35em">사회복지법인</text>
<rect x="438.3" y="808.3" width="2.8" height="2.8" fill="#8ea9db"/>
<text x="445.2" y="809.6" font-size="8" fill="#595959" dy="0.35em">법인·단체등</text>
<rect x="323.4" y="818.6" width="2.8" height="2.8" fill="#c5d5ea"/>
<text x="330.3" y="819.9" font-size="8" fill="#595959" dy="0.35em">민간</text>
<rect x="380.7" y="818.6" width="2.8" height="2.8" fill="#d2e6f3"/>
<text x="387.6" y="819.9" font-size="8" fill="#595959" dy="0.35em">가정</text>
<rect x="438.3" y="818.6" width="2.8" height="2.8" fill="#f8d0c0"/>
<text x="445.2" y="819.9" font-size="8" fill="#595959" dy="0.35em">협동</text>
<rect x="323.4" y="828.6" width="2.8" height="2.8" fill="#bfbfbf"/>
<text x="330.3" y="829.9" font-size="8" fill="#595959" dy="0.35em">직장</text>
</g>
<g id="mappanel">
<path d="M525.2 143.5 L533.1 147.9 L525.2 152.3Z" fill="#000"/>
<text x="537.4" y="147.9" font-size="11.2" fill="#000" font-weight="700" textLength="62.5" lengthAdjust="spacingAndGlyphs" dy="0.35em">어린이집 현황</text>
<rect x="522.8" y="176.0" width="334.0" height="392.0" fill="#fdfdfe"/>
<text x="833.0" y="174.6" font-size="7" fill="#7f7f7f" text-anchor="end" textLength="40.5" lengthAdjust="spacingAndGlyphs" dy="0.35em">(단위: 개소)</text>
<polygon points="645.0,209.5 647.3,205.4 654.1,202.3 662.0,202.8 669.7,201.8 680.9,200.8 692.1,202.7 703.4,202.7 710.8,199.0 714.6,194.3 717.4,188.7 718.7,182.7 721.1,184.0 723.4,192.0 727.6,201.8 737.0,218.0 756.6,244.8 764.1,257.9 770.7,270.9 776.3,282.1 779.1,289.6 770.7,286.8 759.4,287.8 744.5,287.8 735.1,289.6 727.7,286.8 715.0,280.0 700.0,270.0 688.0,264.0 690.6,257.0 690.0,250.0 684.0,240.0 672.0,228.0 669.3,225.9 668.6,219.8 664.8,219.0 660.2,216.8 657.9,218.3 654.9,214.5 651.1,216.0 645.8,210.7" fill="#8da9be"/>
<polygon points="609.7,293.1 613.0,290.5 617.2,291.2 620.0,288.0 624.7,294.0 632.1,295.9 635.9,296.5 645.0,297.2 657.2,298.0 662.0,305.0 668.0,320.0 672.0,332.0 676.0,345.0 683.0,362.0 673.3,367.9 669.5,364.1 662.0,358.5 654.6,354.8 645.0,350.0 630.0,346.0 617.2,342.6 615.3,336.0 613.5,326.7 606.0,322.0 596.0,321.0 590.0,318.0 589.0,313.0 594.8,310.8 598.5,306.2 601.0,300.0 604.1,298.7 606.0,294.5" fill="#cddfec"/>
<polygon points="686.0,364.0 704.0,364.0 704.0,380.0 686.0,380.0" fill="#8ba7bc"/>
<polygon points="779.1,289.6 770.7,286.8 759.4,287.8 744.5,287.8 735.1,289.6 727.7,286.8 730.0,290.0 728.0,300.0 726.0,304.3 714.8,306.2 703.6,311.8 694.2,317.4 690.5,323.9 694.2,330.5 696.0,336.0 700.0,350.0 703.0,365.0 698.0,372.0 696.0,375.0 703.6,380.0 709.2,387.0 714.8,393.0 722.2,394.5 729.7,391.0 737.2,394.0 744.7,396.5 752.1,394.5 760.0,394.0 762.0,388.0 772.0,387.0 780.0,388.0 782.0,375.0 781.0,363.0 786.0,362.5 789.3,358.5 784.0,357.0 780.2,358.5 779.3,351.0 778.3,343.6 779.3,328.6 781.0,315.0 781.0,300.0" fill="#5f849f"/>
<polygon points="688.0,264.0 700.0,270.0 715.0,280.0 727.7,286.8 730.0,290.0 728.0,300.0 726.0,304.3 714.8,306.2 703.6,311.8 694.2,317.4 690.5,323.9 694.2,330.5 696.0,336.0 700.0,350.0 703.0,365.0 698.0,372.0 690.0,368.0 683.0,362.0 676.0,345.0 672.0,332.0 668.0,320.0 662.0,305.0 657.2,298.0 666.3,295.0 675.4,288.1 681.5,281.3 685.3,273.7 686.8,266.1" fill="#8ba7bc"/>
<polygon points="660.3,333.5 664.0,331.5 670.0,332.0 675.5,334.5 676.0,352.0 669.0,351.0 666.0,347.5 662.5,347.0 660.0,341.0" fill="#8ba7bc"/>
<polygon points="617.2,342.6 630.0,346.0 645.0,350.0 654.6,354.8 662.0,358.5 669.5,364.1 673.3,367.9 683.0,362.0 690.0,368.0 698.0,372.0 696.0,372.5 688.6,374.4 686.0,380.0 684.0,392.0 683.5,400.0 685.0,418.7 690.0,431.8 692.0,441.0 685.8,439.3 682.0,437.4 678.3,441.1 680.2,444.9 682.0,452.3 678.3,457.9 674.6,461.7 670.8,456.1 672.7,452.3 674.6,444.9 670.8,444.9 667.1,446.7 661.5,452.3 655.9,454.2 654.0,456.1 652.1,461.7 648.4,465.4 644.7,463.6 640.9,465.4 637.2,472.9 631.6,474.8 630.5,466.0 629.7,461.7 628.8,471.0 626.0,478.5 622.2,474.8 620.4,480.4 614.8,482.2 601.7,478.5 592.3,476.6 590.5,472.9 596.0,466.0 600.0,455.0 603.0,445.0 608.2,434.6 611.0,429.9 607.3,424.3 603.6,418.7 605.4,411.2 609.7,409.0 613.5,399.6 621.9,392.1 616.3,390.3 621.0,379.0 622.0,372.0 619.0,360.0 617.0,350.0" fill="#8ba7bc"/>
<polygon points="721.5,372.0 745.0,372.0 746.5,383.0 741.0,390.5 735.5,392.0 730.3,388.2 724.0,391.5 720.5,383.0" fill="#6d90ab" stroke="#93adc2" stroke-width="0.5" stroke-linejoin="round"/>
<polygon points="757.0,393.5 760.0,387.0 763.5,385.0 770.0,384.3 779.0,385.6 783.0,390.0 780.0,398.5 777.8,403.6 776.5,410.5 772.7,407.5 768.9,403.6 759.9,397.2" fill="#b7cddd"/>
<polygon points="757.0,417.0 766.0,405.0 768.9,402.0 773.0,406.0 777.0,410.5 773.0,414.5 768.0,417.0 762.0,417.5" fill="#5f88a5"/>
<polygon points="681.6,381.8 686.0,377.0 693.1,372.8 699.0,374.0 704.7,376.7 708.5,382.0 712.4,387.0 717.0,389.5 721.3,390.8 726.0,389.8 730.3,388.2 733.0,390.5 735.5,392.7 740.5,393.5 745.7,394.0 749.0,392.0 752.2,390.8 758.6,392.1 759.9,397.2 764.5,400.5 768.9,403.6 767.6,407.5 759.9,413.9 753.4,419.1 752.2,425.5 747.0,428.0 743.2,426.8 741.9,435.7 743.2,443.4 741.2,449.9 736.8,452.4 735.0,456.0 722.0,455.0 712.0,456.5 700.0,455.3 694.0,455.0 691.2,449.9 690.5,442.2 687.3,437.0 684.1,426.8 680.9,420.3 680.5,400.0" fill="#34607b"/>
<polygon points="645.0,209.5 645.8,210.7 651.1,216.0 654.9,214.5 657.9,218.3 660.2,216.8 664.8,219.0 668.6,219.8 669.3,225.9 672.0,228.0 684.0,240.0 690.0,250.0 690.6,257.0 688.0,264.0 686.8,266.1 685.3,273.7 681.5,281.3 675.4,288.1 666.3,295.0 657.2,298.0 645.0,297.2 635.9,296.5 630.6,291.9 631.4,284.3 626.8,278.2 629.8,272.2 625.3,269.1 624.5,253.2 626.8,240.3 627.6,230.4 640.0,225.0" fill="#27475c"/>
<polygon points="624.5,253.2 629.0,252.0 632.9,256.0 632.3,262.0 629.8,269.0 625.3,269.1" fill="#3f6a8c"/>
<ellipse cx="614.2" cy="241.2" rx="4.3" ry="4.7" fill="#27475c"/><ellipse cx="622" cy="244" rx="3.6" ry="3.2" fill="#27475c"/><ellipse cx="604.6" cy="239.4" rx="2.6" ry="2" fill="#3a5f7c"/>
<path d="M639 251 L642 246.5 L647.5 245.6 L651.5 248 L652.6 255 L650 261 L644 263 L640.3 259 Z" fill="#2b4c63" stroke="#8aa4b8" stroke-width="0.6"/>
<path d="M626 241.8 L631.4 249.4 L639 255.5 L642.8 258.6 L648.8 257.8 L651.1 256.2" fill="none" stroke="#d3dfe8" stroke-width="0.9"/>
<path d="M632.9 256 L636 262 L640 264.5 L646 266 L650 262" fill="none" stroke="#55768f" stroke-width="0.5"/>
<path d="M611.6 399.6 L614.8 410 L622.2 411.2 L627.9 403.7 L633.5 401 L640 400" fill="none" stroke="#b5c8d6" stroke-width="0.6"/>
<path d="M623.5 421 L627 417.2 L632 418 L636 416.6 L641 419 L643.7 424 L640 430 L633 431 L627 428.5 Z" fill="#90acc1" stroke="#c0d0dc" stroke-width="0.6"/>
<ellipse cx="615.3" cy="548.4" rx="23" ry="9" transform="rotate(-15 615.3 548.4)" fill="#c3d6e3"/>
<polygon points="666.0,446.0 671.0,444.0 675.0,447.0 674.0,455.0 676.0,462.0 673.0,469.0 669.0,470.0 666.0,464.0 668.0,457.0 665.0,452.0" fill="#8ba7bc"/>
<polygon points="678.0,441.0 684.0,438.0 690.0,441.0 690.5,452.0 688.0,460.0 684.0,466.0 681.0,461.0 683.0,454.0 679.0,449.0" fill="#8ba7bc"/>
<polygon points="645.0,464.0 651.0,461.0 657.0,463.0 663.0,461.0 666.0,466.0 662.0,471.0 657.0,474.0 652.0,471.0 647.0,470.0" fill="#8ba7bc"/>
<ellipse cx="614" cy="487.5" rx="2.4" ry="1.7" fill="#8ea9bd"/>
<ellipse cx="618" cy="492" rx="1.8" ry="2.4" fill="#8ea9bd"/>
<ellipse cx="624.5" cy="480.5" rx="2.4" ry="3.2" fill="#8ea9bd"/>
<ellipse cx="635.8" cy="490.8" rx="1.8" ry="2.4" fill="#8ea9bd"/>
<ellipse cx="641" cy="478" rx="2.4" ry="1.5" fill="#8ea9bd"/>
<ellipse cx="632" cy="478" rx="1.6" ry="1.6" fill="#8ea9bd"/>
<ellipse cx="669" cy="474" rx="1.6" ry="1.2" fill="#8ea9bd"/>
<ellipse cx="679" cy="470" rx="1.6" ry="1.2" fill="#8ea9bd"/>
<ellipse cx="688" cy="463" rx="1.6" ry="1.1" fill="#8ea9bd"/>
<ellipse cx="693" cy="470" rx="1.1" ry="0.9" fill="#8ea9bd"/>
<ellipse cx="659.7" cy="501.2" rx="1.2" ry="1.2" fill="#8ea9bd"/>
<ellipse cx="638" cy="504.5" rx="0.6" ry="0.6" fill="#8ea9bd"/>
<ellipse cx="596" cy="428" rx="4.6" ry="2.8" fill="#8ea9bd"/>
<ellipse cx="603.5" cy="425.6" rx="3.2" ry="2.2" fill="#8ea9bd"/>
<ellipse cx="591" cy="432.6" rx="2.6" ry="1.6" fill="#8ea9bd"/>
<ellipse cx="599" cy="433" rx="2" ry="1.2" fill="#8ea9bd"/>
<ellipse cx="586" cy="483" rx="2.6" ry="1.6" fill="#8ea9bd"/>
<ellipse cx="592.5" cy="487" rx="1.6" ry="1.1" fill="#8ea9bd"/>
<ellipse cx="581" cy="486.5" rx="1.1" ry="0.9" fill="#8ea9bd"/>
<ellipse cx="576" cy="461" rx="0.8" ry="0.6" fill="#8ea9bd"/>
<ellipse cx="516" cy="222" rx="2.2" ry="2" fill="#8ea9bd"/>
<ellipse cx="519" cy="231" rx="0.9" ry="1.1" fill="#8ea9bd"/>
<ellipse cx="741" cy="458" rx="2" ry="1" fill="#8ea9bd"/>
<ellipse cx="717" cy="460" rx="1.5" ry="0.9" fill="#8ea9bd"/>
<ellipse cx="730" cy="458.5" rx="1.8" ry="0.9" fill="#8ea9bd"/>
<ellipse cx="749.5" cy="431" rx="1.3" ry="2.6" fill="#8ea9bd"/>
<ellipse cx="755.5" cy="436" rx="0.9" ry="1.3" fill="#8ea9bd"/>
<circle cx="586" cy="290" r="0.6" fill="#7b97ad"/>
<circle cx="584" cy="300" r="0.6" fill="#7b97ad"/>
<circle cx="590" cy="303" r="0.6" fill="#7b97ad"/>
<circle cx="575" cy="260" r="0.6" fill="#7b97ad"/>
<circle cx="606" cy="283" r="0.6" fill="#7b97ad"/>
<circle cx="599" cy="288" r="0.6" fill="#7b97ad"/>
<circle cx="593" cy="296" r="0.6" fill="#7b97ad"/>
<circle cx="588" cy="284" r="0.6" fill="#7b97ad"/>
<ellipse cx="859.5" cy="252" rx="2.6" ry="2.4" fill="#d5d9dd"/>
<defs><filter id="ls" x="-20%" y="-20%" width="150%" height="150%"><feDropShadow dx="1.2" dy="1.4" stdDeviation="1.1" flood-color="#000" flood-opacity="0.42"/></filter></defs>
<rect x="597" y="195.7" width="47.0" height="33.8" fill="#fff" filter="url(#ls)"/>
<rect x="650.7" y="226" width="51.2" height="29.3" fill="#fff" filter="url(#ls)"/>
<rect x="712.9" y="210.2" width="44.0" height="39.5" fill="#fff" filter="url(#ls)"/>
<rect x="585.8" y="246.7" width="38.0" height="31.8" fill="#fff" filter="url(#ls)"/>
<rect x="682.7" y="274.2" width="43.2" height="29.5" fill="#fff" filter="url(#ls)"/>
<rect x="736.8" y="291.2" width="48.3" height="35.8" fill="#fff" filter="url(#ls)"/>
<rect x="637.4" y="298.7" width="37.6" height="32.0" fill="#fff" filter="url(#ls)"/>
<rect x="568.4" y="313.2" width="43.8" height="30.9" fill="#fff" filter="url(#ls)"/>
<rect x="673.6" y="337.9" width="38.8" height="30.3" fill="#fff" filter="url(#ls)"/>
<rect x="725.6" y="342.6" width="37.4" height="35.2" fill="#fff" filter="url(#ls)"/>
<rect x="779.3" y="361.7" width="43.0" height="36.1" fill="#fff" filter="url(#ls)"/>
<rect x="615.9" y="345.4" width="38.1" height="30.5" fill="#fff" filter="url(#ls)"/>
<rect x="638.1" y="382.4" width="42.6" height="36.5" fill="#fff" filter="url(#ls)"/>
<rect x="693.2" y="413.5" width="43.1" height="39.8" fill="#fff" filter="url(#ls)"/>
<rect x="756.4" y="415.8" width="52.2" height="38.1" fill="#fff" filter="url(#ls)"/>
<rect x="577" y="435.9" width="43.9" height="36.6" fill="#fff" filter="url(#ls)"/>
<rect x="612" y="509.9" width="43.3" height="29.9" fill="#fff" filter="url(#ls)"/>
<text x="620.5" y="207.5" font-size="10.4" fill="#1a1a1a" text-anchor="middle" font-weight="500" dy="0.35em">경기</text>
<text x="621.1" y="222.0" font-size="10.8" fill="#1a1a1a" text-anchor="middle" textLength="28.4" lengthAdjust="spacingAndGlyphs" dy="0.35em">8,090</text>
<text x="676.3" y="236.3" font-size="10.4" fill="#1a1a1a" text-anchor="middle" font-weight="500" dy="0.35em">서울</text>
<text x="676.9" y="249.1" font-size="10.8" fill="#1a1a1a" text-anchor="middle" textLength="28.4" lengthAdjust="spacingAndGlyphs" dy="0.35em">4,040</text>
<text x="734.9" y="220.6" font-size="10.4" fill="#1a1a1a" text-anchor="middle" font-weight="500" dy="0.35em">강원</text>
<text x="735.5" y="237.2" font-size="10.8" fill="#1a1a1a" text-anchor="middle" textLength="18.6" lengthAdjust="spacingAndGlyphs" dy="0.35em">787</text>
<text x="604.8" y="257.7" font-size="10.4" fill="#1a1a1a" text-anchor="middle" font-weight="500" dy="0.35em">인천</text>
<text x="605.4" y="271.4" font-size="10.8" fill="#1a1a1a" text-anchor="middle" textLength="28.4" lengthAdjust="spacingAndGlyphs" dy="0.35em">1,562</text>
<text x="704.3" y="285.3" font-size="10.4" fill="#1a1a1a" text-anchor="middle" font-weight="500" dy="0.35em">충북</text>
<text x="704.9" y="297.2" font-size="10.8" fill="#1a1a1a" text-anchor="middle" textLength="18.6" lengthAdjust="spacingAndGlyphs" dy="0.35em">839</text>
<text x="761.0" y="302.3" font-size="10.4" fill="#1a1a1a" text-anchor="middle" font-weight="500" dy="0.35em">경북</text>
<text x="761.6" y="316.8" font-size="10.8" fill="#1a1a1a" text-anchor="middle" textLength="28.4" lengthAdjust="spacingAndGlyphs" dy="0.35em">1,175</text>
<text x="656.2" y="310.0" font-size="10.4" fill="#1a1a1a" text-anchor="middle" font-weight="500" dy="0.35em">세종</text>
<text x="656.8" y="323.9" font-size="10.8" fill="#1a1a1a" text-anchor="middle" textLength="18.6" lengthAdjust="spacingAndGlyphs" dy="0.35em">293</text>
<text x="590.3" y="324.8" font-size="10.4" fill="#1a1a1a" text-anchor="middle" font-weight="500" dy="0.35em">충남</text>
<text x="590.9" y="337.5" font-size="10.8" fill="#1a1a1a" text-anchor="middle" textLength="28.4" lengthAdjust="spacingAndGlyphs" dy="0.35em">1,288</text>
<text x="693.0" y="349.5" font-size="10.4" fill="#1a1a1a" text-anchor="middle" font-weight="500" dy="0.35em">대전</text>
<text x="693.6" y="362.2" font-size="10.8" fill="#1a1a1a" text-anchor="middle" textLength="18.6" lengthAdjust="spacingAndGlyphs" dy="0.35em">828</text>
<text x="744.3" y="353.5" font-size="10.4" fill="#1a1a1a" text-anchor="middle" font-weight="500" dy="0.35em">대구</text>
<text x="744.9" y="367.9" font-size="10.8" fill="#1a1a1a" text-anchor="middle" textLength="18.6" lengthAdjust="spacingAndGlyphs" dy="0.35em">996</text>
<text x="800.8" y="374.0" font-size="10.4" fill="#1a1a1a" text-anchor="middle" font-weight="500" dy="0.35em">울산</text>
<text x="801.4" y="388.4" font-size="10.8" fill="#1a1a1a" text-anchor="middle" textLength="18.6" lengthAdjust="spacingAndGlyphs" dy="0.35em">538</text>
<text x="635.0" y="356.6" font-size="10.4" fill="#1a1a1a" text-anchor="middle" font-weight="500" dy="0.35em">전북</text>
<text x="635.6" y="369.2" font-size="10.8" fill="#1a1a1a" text-anchor="middle" textLength="18.6" lengthAdjust="spacingAndGlyphs" dy="0.35em">866</text>
<text x="659.4" y="393.6" font-size="10.4" fill="#1a1a1a" text-anchor="middle" font-weight="500" dy="0.35em">광주</text>
<text x="660.0" y="408.4" font-size="10.8" fill="#1a1a1a" text-anchor="middle" textLength="18.6" lengthAdjust="spacingAndGlyphs" dy="0.35em">798</text>
<text x="714.8" y="425.6" font-size="10.4" fill="#1a1a1a" text-anchor="middle" font-weight="500" dy="0.35em">경남</text>
<text x="715.4" y="443.6" font-size="10.8" fill="#1a1a1a" text-anchor="middle" textLength="28.4" lengthAdjust="spacingAndGlyphs" dy="0.35em">1,628</text>
<text x="782.5" y="427.6" font-size="10.4" fill="#1a1a1a" text-anchor="middle" font-weight="500" dy="0.35em">부산</text>
<text x="783.1" y="444.2" font-size="10.8" fill="#1a1a1a" text-anchor="middle" textLength="28.4" lengthAdjust="spacingAndGlyphs" dy="0.35em">1,289</text>
<text x="599.0" y="446.7" font-size="10.4" fill="#1a1a1a" text-anchor="middle" font-weight="500" dy="0.35em">전남</text>
<text x="599.6" y="463.0" font-size="10.8" fill="#1a1a1a" text-anchor="middle" textLength="18.6" lengthAdjust="spacingAndGlyphs" dy="0.35em">875</text>
<text x="633.6" y="520.6" font-size="10.4" fill="#1a1a1a" text-anchor="middle" font-weight="500" dy="0.35em">제주</text>
<text x="634.2" y="533.6" font-size="10.8" fill="#1a1a1a" text-anchor="middle" textLength="18.6" lengthAdjust="spacingAndGlyphs" dy="0.35em">379</text>
<text x="693.0" y="587.2" font-size="10.3" fill="#000" text-anchor="middle" font-weight="700" textLength="128.7" lengthAdjust="spacingAndGlyphs" dy="0.35em">【시도별 어린이집 개소수】</text>
</g>
<g id="rightcol">
<text x="942.4" y="150.5" font-size="10.3" fill="#000" text-anchor="middle" font-weight="700" textLength="117.5" lengthAdjust="spacingAndGlyphs" dy="0.35em">【설립유형별 설치비율】</text>
<path d="M1093.20 149.50 A58.9 58.9 0 0 1 1152.09 209.23 L1111.50 208.66 A18.3 18.3 0 0 0 1093.20 190.10Z" fill="#35607a" stroke="#fff" stroke-width="1.4" stroke-linejoin="round"/>
<path d="M1152.09 209.23 A58.9 58.9 0 0 1 1149.73 224.94 L1110.76 213.54 A18.3 18.3 0 0 0 1111.50 208.66Z" fill="#6a9fc0" stroke="#fff" stroke-width="1.4" stroke-linejoin="round"/>
<path d="M1149.73 224.94 A58.9 58.9 0 0 1 1147.50 231.22 L1110.07 215.49 A18.3 18.3 0 0 0 1110.76 213.54Z" fill="#8ea9db" stroke="#fff" stroke-width="1.4" stroke-linejoin="round"/>
<path d="M1147.50 231.22 A58.9 58.9 0 0 1 1055.48 253.64 L1081.48 222.46 A18.3 18.3 0 0 0 1110.07 215.49Z" fill="#c5d5ea" stroke="#fff" stroke-width="1.4" stroke-linejoin="round"/>
<path d="M1055.48 253.64 A58.9 58.9 0 0 1 1073.93 152.74 L1087.21 191.11 A18.3 18.3 0 0 0 1081.48 222.46Z" fill="#d2e6f3" stroke="#fff" stroke-width="1.4" stroke-linejoin="round"/>
<path d="M1073.93 152.74 A58.9 58.9 0 0 1 1075.33 152.28 L1087.65 190.96 A18.3 18.3 0 0 0 1087.21 191.11Z" fill="#f8dccf" stroke="#fff" stroke-width="1.4" stroke-linejoin="round"/>
<path d="M1075.33 152.28 A58.9 58.9 0 0 1 1093.20 149.50 L1093.20 190.10 A18.3 18.3 0 0 0 1087.65 190.96Z" fill="#bfbfbf" stroke="#fff" stroke-width="1.4" stroke-linejoin="round"/>
<polyline points="1131.3,213.9 1152.7,194.1 1159,194.1" fill="none" stroke="#a6a6a6" stroke-width="0.7"/>
<polyline points="1130.7,225.2 1155.7,261.8 1162.4,261.8" fill="none" stroke="#a6a6a6" stroke-width="0.7"/>
<polyline points="1069.7,150.5 1076.4,159.6" fill="none" stroke="#a6a6a6" stroke-width="0.7"/>
<text x="1119.7" y="173.4" font-size="8.6" fill="#fff" text-anchor="middle" dy="0.35em">국공립</text>
<text x="1119.7" y="185.0" font-size="8.8" fill="#fff" text-anchor="middle" dy="0.35em">25.2%</text>
<text x="1184.7" y="182.5" font-size="8.6" fill="#404040" text-anchor="middle" dy="0.35em">사회복지법인</text>
<text x="1184.7" y="194.7" font-size="8.8" fill="#404040" text-anchor="middle" dy="0.35em">4.3%</text>
<text x="1185.3" y="256.6" font-size="8.6" fill="#404040" text-anchor="middle" dy="0.35em">법인·단체등</text>
<text x="1185.3" y="269.4" font-size="8.8" fill="#404040" text-anchor="middle" dy="0.35em">1.8%</text>
<text x="1099.3" y="241.1" font-size="8.6" fill="#1a1a1a" text-anchor="middle" font-weight="500" dy="0.35em">민간</text>
<text x="1099.3" y="253.3" font-size="8.8" fill="#1a1a1a" text-anchor="middle" font-weight="500" dy="0.35em">29.7%</text>
<text x="1054.2" y="194.7" font-size="8.6" fill="#595959" text-anchor="middle" dy="0.35em">가정</text>
<text x="1054.2" y="207.8" font-size="8.8" fill="#595959" text-anchor="middle" dy="0.35em">33.6%</text>
<text x="1053.6" y="145.0" font-size="8.6" fill="#404040" text-anchor="middle" dy="0.35em">협동</text>
<text x="1053.6" y="157.8" font-size="8.8" fill="#404040" text-anchor="middle" dy="0.35em">0.4%</text>
<text x="1083.1" y="145.0" font-size="8.6" fill="#404040" text-anchor="middle" dy="0.35em">직장</text>
<text x="1083.1" y="157.8" font-size="8.8" fill="#404040" text-anchor="middle" dy="0.35em">4.9%</text>
<text x="1044.3" y="306.8" font-size="10.3" fill="#000" text-anchor="middle" font-weight="700" textLength="115.0" lengthAdjust="spacingAndGlyphs" dy="0.35em">【반유형별 반 수* 현황】</text>
<text x="1196.9" y="321.2" font-size="7.2" fill="#7f7f7f" text-anchor="end" textLength="30.0" lengthAdjust="spacingAndGlyphs" dy="0.35em">(단위: 개)</text>
<line x1="937.7" y1="331.2" x2="937.7" y2="404.4" stroke="#bfbfbf" stroke-width="0.9"/>
<line x1="947.0" y1="331.2" x2="947.0" y2="404.4" stroke="#e3e3e3" stroke-width="0.9"/>
<line x1="956.3" y1="331.2" x2="956.3" y2="404.4" stroke="#e3e3e3" stroke-width="0.9"/>
<line x1="965.6" y1="331.2" x2="965.6" y2="404.4" stroke="#e3e3e3" stroke-width="0.9"/>
<line x1="974.9" y1="331.2" x2="974.9" y2="404.4" stroke="#e3e3e3" stroke-width="0.9"/>
<line x1="984.1" y1="331.2" x2="984.1" y2="404.4" stroke="#e3e3e3" stroke-width="0.9"/>
<line x1="993.4" y1="331.2" x2="993.4" y2="404.4" stroke="#e3e3e3" stroke-width="0.9"/>
<line x1="1002.7" y1="331.2" x2="1002.7" y2="404.4" stroke="#e3e3e3" stroke-width="0.9"/>
<line x1="1012.0" y1="331.2" x2="1012.0" y2="404.4" stroke="#e3e3e3" stroke-width="0.9"/>
<line x1="1021.3" y1="331.2" x2="1021.3" y2="404.4" stroke="#e3e3e3" stroke-width="0.9"/>
<line x1="1030.6" y1="331.2" x2="1030.6" y2="404.4" stroke="#e3e3e3" stroke-width="0.9"/>
<line x1="1039.9" y1="331.2" x2="1039.9" y2="404.4" stroke="#e3e3e3" stroke-width="0.9"/>
<line x1="1049.2" y1="331.2" x2="1049.2" y2="404.4" stroke="#e3e3e3" stroke-width="0.9"/>
<line x1="1058.5" y1="331.2" x2="1058.5" y2="404.4" stroke="#e3e3e3" stroke-width="0.9"/>
<line x1="1067.8" y1="331.2" x2="1067.8" y2="404.4" stroke="#e3e3e3" stroke-width="0.9"/>
<line x1="1077.0" y1="331.2" x2="1077.0" y2="404.4" stroke="#e3e3e3" stroke-width="0.9"/>
<line x1="1086.3" y1="331.2" x2="1086.3" y2="404.4" stroke="#e3e3e3" stroke-width="0.9"/>
<line x1="1095.6" y1="331.2" x2="1095.6" y2="404.4" stroke="#e3e3e3" stroke-width="0.9"/>
<line x1="1104.9" y1="331.2" x2="1104.9" y2="404.4" stroke="#e3e3e3" stroke-width="0.9"/>
<line x1="1114.2" y1="331.2" x2="1114.2" y2="404.4" stroke="#e3e3e3" stroke-width="0.9"/>
<line x1="1123.5" y1="331.2" x2="1123.5" y2="404.4" stroke="#e3e3e3" stroke-width="0.9"/>
<line x1="1132.8" y1="331.2" x2="1132.8" y2="404.4" stroke="#e3e3e3" stroke-width="0.9"/>
<line x1="1142.1" y1="331.2" x2="1142.1" y2="404.4" stroke="#e3e3e3" stroke-width="0.9"/>
<line x1="1151.4" y1="331.2" x2="1151.4" y2="404.4" stroke="#e3e3e3" stroke-width="0.9"/>
<line x1="1160.6" y1="331.2" x2="1160.6" y2="404.4" stroke="#e3e3e3" stroke-width="0.9"/>
<line x1="1169.9" y1="331.2" x2="1169.9" y2="404.4" stroke="#e3e3e3" stroke-width="0.9"/>
<line x1="1179.2" y1="331.2" x2="1179.2" y2="404.4" stroke="#e3e3e3" stroke-width="0.9"/>
<line x1="1188.5" y1="331.2" x2="1188.5" y2="404.4" stroke="#e3e3e3" stroke-width="0.9"/>
<line x1="1197.8" y1="331.2" x2="1197.8" y2="404.4" stroke="#e3e3e3" stroke-width="0.9"/>
<rect x="938.1" y="335.4" width="224.4" height="10.3" fill="#8fb3c7"/>
<text x="930.0" y="340.5" font-size="9" fill="#595959" text-anchor="end" dy="0.35em">영아반</text>
<text x="1169.4" y="340.7" font-size="8.6" fill="#333" dy="0.35em">120,767</text>
<rect x="938.1" y="353.9" width="47.4" height="10.3" fill="#c6cad9"/>
<text x="930.0" y="359.1" font-size="9" fill="#595959" text-anchor="end" dy="0.35em">유아반</text>
<text x="992.6" y="359.2" font-size="8.6" fill="#333" dy="0.35em">25,489</text>
<rect x="938.1" y="372.5" width="8.1" height="10.3" fill="#e3d8dc"/>
<text x="930.0" y="377.6" font-size="9" fill="#595959" text-anchor="end" dy="0.35em">장애아반</text>
<text x="952.9" y="377.8" font-size="8.6" fill="#333" dy="0.35em">4,375</text>
<text x="930.0" y="396.1" font-size="9" fill="#595959" text-anchor="end" dy="0.35em">방과후반</text>
<text x="944.7" y="396.3" font-size="8.6" fill="#333" dy="0.35em">93</text>
<line x1="893.4" y1="406.0" x2="1219.8" y2="406.0" stroke="#8c8c8c" stroke-width="1"/>
<text x="901.0" y="417.8" font-size="7.8" fill="#333" textLength="312.0" lengthAdjust="spacingAndGlyphs" dy="0.35em">* 어린이집 내 실제로 운영되고 있는 학급(반)의 개수이며, 혼합반인 경우 어린 연령을 기준으로 산정</text>
<text x="908.7" y="429.4" font-size="7.8" fill="#333" textLength="194.6" lengthAdjust="spacingAndGlyphs" dy="0.35em">- 영아반: 단일연령반(0,1,2세반)/혼합반(0,1세, 1,2세, 2,3세)</text>
<text x="908.7" y="440.1" font-size="7.8" fill="#333" textLength="206.8" lengthAdjust="spacingAndGlyphs" dy="0.35em">- 유아반: 단일연령반(3,4,5세반)/ 혼합반(3,4세 이상, 4,5세 이상)</text>
<text x="908.7" y="451.4" font-size="7.8" fill="#333" textLength="137.8" lengthAdjust="spacingAndGlyphs" dy="0.35em">- 장애아반(기본반, 방과후반, 누리장애아반)</text>
<polygon points="967.7,540.2 976.4,544.4 978.5,553.8 972.5,561.3 962.9,561.3 956.9,553.8 959.0,544.4" fill="none" stroke="#d9d9d9" stroke-width="0.7"/>
<polygon points="967.7,529.1 985.1,537.5 989.3,556.2 977.3,571.3 958.1,571.3 946.1,556.2 950.3,537.5" fill="none" stroke="#d9d9d9" stroke-width="0.7"/>
<polygon points="967.7,518.0 993.7,530.5 1000.2,558.7 982.1,581.3 953.3,581.3 935.2,558.7 941.7,530.5" fill="none" stroke="#d9d9d9" stroke-width="0.7"/>
<polygon points="967.7,506.9 1002.4,523.6 1011.0,561.2 987.0,591.3 948.4,591.3 924.4,561.2 933.0,523.6" fill="none" stroke="#d9d9d9" stroke-width="0.7"/>
<polygon points="967.7,495.8 1011.1,516.7 1021.8,563.6 991.8,601.3 943.6,601.3 913.6,563.6 924.3,516.7" fill="none" stroke="#d9d9d9" stroke-width="0.7"/>
<polygon points="967.7,509.5 986.7,536.2 996.8,557.9 982.1,581.3 952.2,583.6 933.0,559.2 941.0,530.0" fill="none" stroke="#3aaa85" stroke-width="2.7" stroke-linejoin="round"/>
<path d="M967.7 506.4 L970.8 509.5 L967.7 512.6 L964.6 509.5Z" fill="#3aaa85"/>
<path d="M986.7 533.1 L989.8 536.2 L986.7 539.3 L983.6 536.2Z" fill="#3aaa85"/>
<path d="M996.8 554.8 L999.9 557.9 L996.8 561.0 L993.7 557.9Z" fill="#3aaa85"/>
<path d="M982.1 578.2 L985.2 581.3 L982.1 584.4 L979.0 581.3Z" fill="#3aaa85"/>
<path d="M952.2 580.5 L955.3 583.6 L952.2 586.7 L949.1 583.6Z" fill="#3aaa85"/>
<path d="M933.0 556.1 L936.1 559.2 L933.0 562.3 L929.9 559.2Z" fill="#3aaa85"/>
<path d="M941.0 526.9 L944.1 530.0 L941.0 533.1 L937.9 530.0Z" fill="#3aaa85"/>
<text x="967.7" y="487.4" font-size="9.4" fill="#595959" text-anchor="middle" dy="0.35em">국공립</text>
<text x="1012.9" y="515.4" font-size="9.4" fill="#595959" textLength="46.7" lengthAdjust="spacingAndGlyphs" dy="0.35em">사회복지법인</text>
<text x="1023.6" y="564.0" font-size="9.4" fill="#595959" textLength="42.6" lengthAdjust="spacingAndGlyphs" dy="0.35em">법인·단체등</text>
<text x="1000.8" y="603.3" font-size="9.4" fill="#595959" text-anchor="middle" dy="0.35em">민간</text>
<text x="934.5" y="603.3" font-size="9.4" fill="#595959" text-anchor="middle" dy="0.35em">가정</text>
<text x="903.6" y="564.0" font-size="9.4" fill="#595959" text-anchor="middle" dy="0.35em">협동</text>
<text x="914.5" y="515.4" font-size="9.4" fill="#595959" text-anchor="middle" dy="0.35em">직장</text>
<text x="967.7" y="501.4" font-size="7" fill="#404040" text-anchor="middle" textLength="19.0" lengthAdjust="spacingAndGlyphs" dy="0.35em">75.3%</text>
<text x="994.8" y="529.8" font-size="7" fill="#404040" text-anchor="middle" textLength="19.0" lengthAdjust="spacingAndGlyphs" dy="0.35em">43.7%</text>
<text x="1009.8" y="559.7" font-size="7" fill="#404040" text-anchor="middle" textLength="19.0" lengthAdjust="spacingAndGlyphs" dy="0.35em">53.7%</text>
<text x="986.2" y="587.8" font-size="7" fill="#404040" text-anchor="middle" textLength="19.0" lengthAdjust="spacingAndGlyphs" dy="0.35em">60.0%</text>
<text x="960.1" y="573.4" font-size="7" fill="#404040" text-anchor="middle" textLength="19.0" lengthAdjust="spacingAndGlyphs" dy="0.35em">64.5%</text>
<text x="919.5" y="552.3" font-size="7" fill="#404040" text-anchor="middle" textLength="19.0" lengthAdjust="spacingAndGlyphs" dy="0.35em">64.2%</text>
<text x="927.0" y="530.0" font-size="7" fill="#404040" text-anchor="middle" textLength="19.0" lengthAdjust="spacingAndGlyphs" dy="0.35em">61.6%</text>
<text x="1147.0" y="506.4" font-size="10.3" fill="#000" text-anchor="middle" font-weight="700" textLength="157.2" lengthAdjust="spacingAndGlyphs" dy="0.35em">【정원충족률(전체, 설립유형별)】</text>
<rect x="1099.3" y="522.5" width="95.5" height="64.7" fill="#fff" stroke="#bfbfbf" stroke-width="0.8"/>
<rect x="1099.3" y="522.5" width="95.5" height="19.2" fill="#8fd4c1"/>
<line x1="1099.3" y1="541.7" x2="1194.8" y2="541.7" stroke="#bfbfbf" stroke-width="0.8"/>
<text x="1147.0" y="532.3" font-size="11" fill="#1a1a1a" text-anchor="middle" font-weight="500" dy="0.35em">전체</text>
<text x="1147.6" y="564.3" font-size="13.2" fill="#404040" text-anchor="middle" textLength="41.0" lengthAdjust="spacingAndGlyphs" dy="0.35em">63.8%</text>
</g>
<g id="bottom">
<path d="M526.0 640.8 L533.9 645.2 L526.0 649.6Z" fill="#000"/>
<text x="538.4" y="645.2" font-size="11.2" fill="#000" font-weight="700" textLength="97.0" lengthAdjust="spacingAndGlyphs" dy="0.35em">현직 보육교직원 현황</text>
<text x="712.5" y="667.3" font-size="10.3" fill="#000" text-anchor="middle" font-weight="700" textLength="130.6" lengthAdjust="spacingAndGlyphs" dy="0.35em">【직종별 보육교직원 현황】</text>
<text x="857.9" y="677.3" font-size="6.6" fill="#7f7f7f" text-anchor="end" textLength="30.0" lengthAdjust="spacingAndGlyphs" dy="0.35em">(단위: 명)</text>
<rect x="575.1" y="686.5" width="287.3" height="107.9" fill="#fff"/>
<rect x="575.1" y="686.5" width="287.3" height="31.7" fill="#cddfd6"/>
<rect x="575.1" y="743.5" width="287.3" height="28.4" fill="#cddfd6"/>
<line x1="575.1" y1="686.5" x2="862.4" y2="686.5" stroke="#7f7f7f" stroke-width="0.8"/>
<line x1="575.1" y1="794.4" x2="862.4" y2="794.4" stroke="#1a1a1a" stroke-width="1.1"/>
<line x1="575.1" y1="686.5" x2="575.1" y2="794.4" stroke="#8c8c8c" stroke-width="0.9"/>
<line x1="651.4" y1="686.5" x2="651.4" y2="794.4" stroke="#1a1a1a" stroke-width="1.1"/>
<line x1="723.7" y1="686.5" x2="723.7" y2="794.4" stroke="#8c8c8c" stroke-width="0.9"/>
<line x1="794.4" y1="686.5" x2="794.4" y2="794.4" stroke="#8c8c8c" stroke-width="0.9"/>
<line x1="862.4" y1="686.5" x2="862.4" y2="718.2" stroke="#8c8c8c" stroke-width="0.9"/>
<line x1="863.0" y1="724.2" x2="863.0" y2="739.5" stroke="#1a1a1a" stroke-width="1"/>
<line x1="863.0" y1="775.9" x2="863.0" y2="794.4" stroke="#1a1a1a" stroke-width="1"/>
<text x="611.8" y="694.1" font-size="9.2" fill="#111" text-anchor="middle" font-weight="700" textLength="18.5" lengthAdjust="spacingAndGlyphs" dy="0.35em">전체</text>
<text x="613.2" y="706.3" font-size="9.2" fill="#111" text-anchor="middle" font-weight="700" textLength="56.0" lengthAdjust="spacingAndGlyphs" dy="0.35em">보육교직원수</text>
<text x="687.9" y="701.7" font-size="10.8" fill="#111" text-anchor="middle" font-weight="700" textLength="22.3" lengthAdjust="spacingAndGlyphs" dy="0.35em">원장</text>
<text x="759.3" y="701.7" font-size="10.8" fill="#111" text-anchor="middle" font-weight="700" textLength="43.8" lengthAdjust="spacingAndGlyphs" dy="0.35em">보육교사</text>
<text x="829.4" y="701.7" font-size="10.8" fill="#111" text-anchor="middle" font-weight="700" textLength="43.5" lengthAdjust="spacingAndGlyphs" dy="0.35em">특수교사</text>
<text x="615.4" y="728.9" font-size="11.6" fill="#404040" text-anchor="middle" textLength="47.0" lengthAdjust="spacingAndGlyphs" dy="0.35em">275,040</text>
<text x="687.4" y="728.9" font-size="11.6" fill="#404040" text-anchor="middle" textLength="37.5" lengthAdjust="spacingAndGlyphs" dy="0.35em">26,154</text>
<text x="759.0" y="728.9" font-size="11.6" fill="#404040" text-anchor="middle" textLength="48.0" lengthAdjust="spacingAndGlyphs" dy="0.35em">204,595</text>
<text x="830.4" y="728.9" font-size="11.6" fill="#404040" text-anchor="middle" textLength="29.5" lengthAdjust="spacingAndGlyphs" dy="0.35em">1,225</text>
<text x="612.5" y="755.7" font-size="10.8" fill="#111" text-anchor="middle" font-weight="700" textLength="31.4" lengthAdjust="spacingAndGlyphs" dy="0.35em">영양사</text>
<text x="687.8" y="755.7" font-size="10.8" fill="#111" text-anchor="middle" font-weight="700" textLength="32.8" lengthAdjust="spacingAndGlyphs" dy="0.35em">간호사</text>
<text x="759.2" y="755.7" font-size="10.8" fill="#111" text-anchor="middle" font-weight="700" textLength="32.2" lengthAdjust="spacingAndGlyphs" dy="0.35em">조리원</text>
<text x="829.6" y="755.7" font-size="10.8" fill="#111" text-anchor="middle" font-weight="700" textLength="21.5" lengthAdjust="spacingAndGlyphs" dy="0.35em">기타</text>
<text x="614.2" y="784.1" font-size="11.6" fill="#404040" text-anchor="middle" textLength="18.0" lengthAdjust="spacingAndGlyphs" dy="0.35em">811</text>
<text x="688.0" y="784.1" font-size="11.6" fill="#404040" text-anchor="middle" textLength="22.0" lengthAdjust="spacingAndGlyphs" dy="0.35em">698</text>
<text x="759.0" y="784.1" font-size="11.6" fill="#404040" text-anchor="middle" textLength="40.0" lengthAdjust="spacingAndGlyphs" dy="0.35em">25,490</text>
<text x="829.2" y="784.1" font-size="11.6" fill="#404040" text-anchor="middle" textLength="38.5" lengthAdjust="spacingAndGlyphs" dy="0.35em">16,067</text>
<text x="1070.1" y="665.8" font-size="10.3" fill="#000" text-anchor="middle" font-weight="700" textLength="120.9" lengthAdjust="spacingAndGlyphs" dy="0.35em">【급수별 보육교사 현황】</text>
<text x="1187.8" y="677.9" font-size="6.8" fill="#7f7f7f" text-anchor="end" textLength="30.0" lengthAdjust="spacingAndGlyphs" dy="0.35em">(단위: 명)</text>
<line x1="971.3" y1="774.7" x2="1180.5" y2="774.7" stroke="#c8c8c8" stroke-width="1"/>
<text x="963.2" y="774.9" font-size="7.9" fill="#595959" text-anchor="end" dy="0.35em">-</text>
<line x1="971.3" y1="752.1" x2="1180.5" y2="752.1" stroke="#ececec" stroke-width="1"/>
<text x="963.2" y="752.3" font-size="7.9" fill="#595959" text-anchor="end" dy="0.35em">50,000</text>
<line x1="971.3" y1="729.5" x2="1180.5" y2="729.5" stroke="#ececec" stroke-width="1"/>
<text x="963.2" y="729.7" font-size="7.9" fill="#595959" text-anchor="end" dy="0.35em">100,000</text>
<line x1="971.3" y1="706.9" x2="1180.5" y2="706.9" stroke="#ececec" stroke-width="1"/>
<text x="963.2" y="707.1" font-size="7.9" fill="#595959" text-anchor="end" dy="0.35em">150,000</text>
<line x1="971.3" y1="684.3" x2="1180.5" y2="684.3" stroke="#ececec" stroke-width="1"/>
<text x="963.2" y="684.5" font-size="7.9" fill="#595959" text-anchor="end" dy="0.35em">200,000</text>
<line x1="971.3" y1="684.3" x2="971.3" y2="777.2" stroke="#ececec" stroke-width="1"/>
<line x1="1041.5" y1="684.3" x2="1041.5" y2="777.2" stroke="#ececec" stroke-width="1"/>
<line x1="1111.0" y1="684.3" x2="1111.0" y2="777.2" stroke="#ececec" stroke-width="1"/>
<line x1="1180.5" y1="684.3" x2="1180.5" y2="777.2" stroke="#ececec" stroke-width="1"/>
<rect x="992.2" y="707.9" width="28.3" height="66.8" fill="#595959"/>
<text x="1007.6" y="697.5" font-size="8.8" fill="#404040" text-anchor="middle" dy="0.35em">147,751</text>
<text x="1007.8" y="787.5" font-size="9.2" fill="#404040" text-anchor="middle" dy="0.35em">1급</text>
<text x="1007.8" y="800.2" font-size="8.8" fill="#404040" text-anchor="middle" dy="0.35em">(72.2%)</text>
<rect x="1062.3" y="749.6" width="28.3" height="25.1" fill="#595959"/>
<text x="1077.7" y="739.2" font-size="8.8" fill="#404040" text-anchor="middle" dy="0.35em">55,574</text>
<text x="1077.9" y="787.5" font-size="9.2" fill="#404040" text-anchor="middle" dy="0.35em">2급</text>
<text x="1077.9" y="800.2" font-size="8.8" fill="#404040" text-anchor="middle" dy="0.35em">( 27.2%)</text>
<rect x="1131.9" y="774.1" width="28.3" height="0.6" fill="#d0d0d0"/>
<text x="1147.3" y="763.7" font-size="8.8" fill="#404040" text-anchor="middle" dy="0.35em">1,220</text>
<text x="1147.5" y="787.5" font-size="9.2" fill="#404040" text-anchor="middle" dy="0.35em">3급</text>
<text x="1147.5" y="800.2" font-size="8.8" fill="#404040" text-anchor="middle" dy="0.35em">( 0.6% )</text>
<text x="905.9" y="834.4" font-size="8.3" fill="#1a1a1a" textLength="319.5" lengthAdjust="spacingAndGlyphs" dy="0.35em">*  출처: 주민등록 인구통계(행정안전부), 보육정책DW시스템(교육부·한국사회보장정보원)</text>
<text x="903.8" y="846.9" font-size="8.3" fill="#1a1a1a" textLength="257.9" lengthAdjust="spacingAndGlyphs" dy="0.35em">※ 연령 기준: 만0-5세 인구수(생활연령), 어린이집 이용아동수(보육연령)</text>
</g>
</svg>
</body></html>
